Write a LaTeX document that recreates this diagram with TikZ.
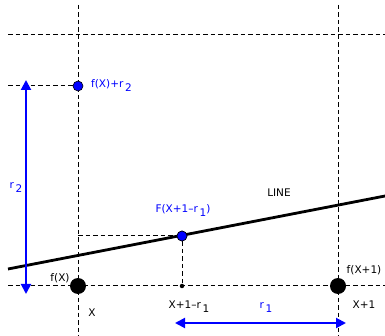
\documentclass[tikz,border=0pt]{standalone}
\usepackage{fontspec}
\setmainfont{DejaVu Sans}
\usetikzlibrary{arrows.meta}
\begin{document}
\begin{tikzpicture}[x=1pt,y=-1pt,
  grid/.style={dash pattern=on 4.5pt off 3pt, line width=1pt, black},
  thickline/.style={line width=2.8pt, black},
  bluearrow/.style={line width=2pt, blue, {Triangle[width=10pt,length=10pt]}-{Triangle[width=10pt,length=10pt]}},
  bluept/.style={circle, fill=blue, draw=black, line width=0.6pt, minimum size=10pt, inner sep=0pt},
  bigpt/.style={circle, fill=black, minimum size=16pt, inner sep=0pt},
  smallpt/.style={circle, fill=black, minimum size=4.5pt, inner sep=0pt},
  lbl/.style={font=\fontsize{10.5}{12}\selectfont, inner sep=0pt},
  bluelbl/.style={lbl, text=blue}]
\useasboundingbox (0,0) rectangle (385,336);
% coordinates
\coordinate (vlt) at (78,5);  \coordinate (vlb) at (78,336);
\coordinate (vrt) at (338,5); \coordinate (vrb) at (338,336);
\coordinate (htl) at (8,35);  \coordinate (htr) at (385,35);
\coordinate (hbl) at (8,286); \coordinate (hbr) at (385,286);
\coordinate (hml) at (8,86);
\coordinate (hmid) at (78,236);
\coordinate (lineA) at (8,269);
\coordinate (lineB) at (385,196);
\coordinate (a2top) at (26,80); \coordinate (a2bot) at (26,294);
\coordinate (a1l) at (175,323); \coordinate (a1r) at (346,323);
% grid
\draw[grid] (vlt) -- (vlb);
\draw[grid] (vrt) -- (vrb);
\draw[grid] (htl) -- (htr);
\draw[grid] (hbl) -- (hbr);
% points
\node[bluept] (pfr) at (78,86) {};
\node[bluept] (pF) at (182,236) {};
\node[smallpt] (pxr) at (182,286) {};
\node[bigpt] (pfx) at (78,286) {};
\node[bigpt] (pfx1) at (338,286) {};
\draw[grid] (hml) -- (pfr);
\draw[grid] (hmid) -- (pF);
\draw[grid] (pF) -- (pxr);
% line
\draw[thickline] (lineA) -- (lineB);
\node[bluept] at (pF) {};
% arrows
\draw[bluearrow] (a2top) -- (a2bot);
\draw[bluearrow] (a1l) -- (a1r);
% labels
\node[bluelbl, anchor=west] (lfr) at (91,86) {f(X)+r\,\raisebox{-4pt}{2}};
\node[bluelbl] (lr2) at (16,188) {r\,\raisebox{-4pt}{2}};
\node[bluelbl] (lF) at (183,211) {F(X+1\textendash r\,\raisebox{-4pt}{1})};
\node[lbl] (lline) at (279,193) {LINE};
\node[lbl] (lfx) at (60,278) {f(X)};
\node[lbl] (lfx1) at (364,270) {f(X+1)};
\node[lbl] (lx) at (92,313) {X};
\node[lbl] (lxr) at (189,307) {X+1\textendash r\,\raisebox{-4pt}{1}};
\node[lbl] (lx1) at (364,305) {X+1};
\node[bluelbl] (lr1) at (266,308) {r\,\raisebox{-4pt}{1}};
\end{tikzpicture}
\end{document}
